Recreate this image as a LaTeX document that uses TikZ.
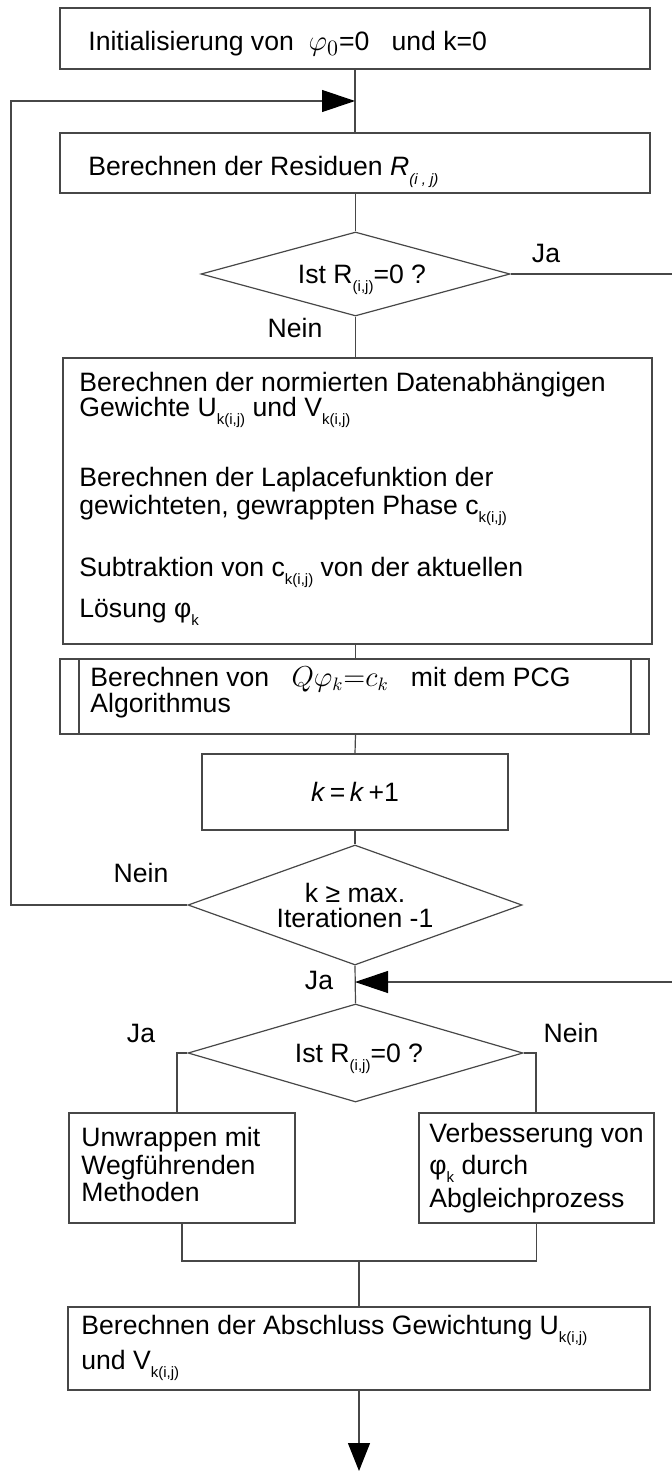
\documentclass[tikz,border=0pt]{standalone}
\usepackage{fontspec}
\setmainfont{Liberation Sans}
\usetikzlibrary{arrows.meta,fit,shapes.geometric}
\newcommand\lsub[1]{\raisebox{-4.2pt}{\fontsize{7.5}{8}\selectfont #1}}
\newcommand\fsz{\fontsize{13.3}{14}\selectfont}
\begin{document}
\begin{tikzpicture}[x=0.5pt,y=-0.5pt,
  line/.style={draw=black!72,line width=0.6pt},
  box/.style={draw=black!72,line width=0.6pt,rectangle,inner sep=0},
  procbox/.style={box,path picture={
      \draw[black!72,line width=0.6pt] ([xshift=9.5pt]path picture bounding box.north west) -- ([xshift=9.5pt]path picture bounding box.south west);
      \draw[black!72,line width=0.6pt] ([xshift=-9pt]path picture bounding box.north east) -- ([xshift=-9pt]path picture bounding box.south east);}},
  dia/.style={draw=black!72,line width=0.6pt,diamond,inner sep=0},
  txt/.style={anchor=base west,inner sep=0,font=\fsz},
  ctxt/.style={anchor=base,inner sep=0,font=\fsz},
  lbl/.style={inner sep=0,font=\fsz},
  arr/.style={-{Triangle[length=16.5pt,width=11pt,color=black]}},
  arrd/.style={-{Triangle[length=14pt,width=11pt,color=black]}}
]
\useasboundingbox (0,0) rectangle (672,1471);

% boxes
\node[box,fit={(60,8) (650,69)}] (b1) {};
\node[txt] (t1) at (88,51) {Initialisierung von \ {\fontsize{15}{15}\selectfont$\varphi_{0}$}=0 \ \ und k=0};

\node[box,fit={(60,133) (650,193)}] (b2) {};
\node[txt] (t2) at (88,176) {Berechnen der Residuen \textit{R}\lsub{\textit{(i , j)}}};

\node[dia,minimum width=154.5pt,minimum height=42pt] (d1) at (355.5,274) {};
\node[ctxt] (td1) at (362,283) {Ist R\lsub{(i,j)}=0 ?};

\node[box,fit={(63,358) (652,644)}] (b3) {};
\node[txt] (t31) at (79,391) {Berechnen der normierten Datenabhängigen};
\node[txt] (t32) at (79,416) {Gewichte U\lsub{k(i,j)} und V\lsub{k(i,j)}};
\node[txt] (t33) at (79,486) {Berechnen der Laplacefunktion der};
\node[txt] (t34) at (79,514) {gewichteten, gewrappten Phase c\lsub{k(i,j)}};
\node[txt] (t35) at (79,576) {Subtraktion von c\lsub{k(i,j)} von der aktuellen};
\node[txt] (t36) at (79,617) {Lösung φ\lsub{k}};

\node[procbox,fit={(60,659) (649,734)}] (b4) {};
\node[txt] (t41) at (90,686) {Berechnen von \ \ $Q\varphi_k{=}c_k$ \ \ mit dem PCG};
\node[txt] (t42) at (90,712) {Algorithmus};

\node[box,fit={(202,754) (508,830)}] (b5) {};
\node[lbl] (t5) at (355,792) {\textit{k}\,=\,\textit{k}\,+1};

\node[dia,minimum width=167pt,minimum height=60pt] (d2) at (355,905) {};
\node[ctxt] (td21) at (355,902) {k ≥ max.};
\node[ctxt] (td22) at (355,927) {Iterationen -1};

\node[dia,minimum width=167.5pt,minimum height=49pt] (d3) at (355.5,1053) {};
\node[ctxt] (td3) at (359,1062) {Ist R\lsub{(i,j)}=0 ?};

\node[box,fit={(69,1113) (295,1223)}] (b7) {};
\node[txt] (t71) at (81,1146) {Unwrappen mit};
\node[txt] (t72) at (81,1174) {Wegführenden};
\node[txt] (t73) at (81,1201) {Methoden};

\node[box,fit={(419,1113) (654,1223)}] (b8) {};
\node[txt] (t81) at (429,1142) {Verbesserung von};
\node[txt] (t82) at (429,1174) {φ\lsub{k} durch};
\node[txt] (t83) at (429,1207) {Abgleichprozess};

\node[box,fit={(68,1307) (650,1390)}] (b9) {};
\node[txt] (t91) at (81,1334) {Berechnen der Abschluss Gewichtung U\lsub{k(i,j)}};
\node[txt] (t92) at (81,1369) {und V\lsub{k(i,j)}};

% labels
\node[lbl] (l1) at (546,253) {Ja};
\node[lbl] (l2) at (295,328) {Nein};
\node[lbl] (l3) at (141,873) {Nein};
\node[lbl] (l4) at (319,980) {Ja};
\node[lbl] (l5) at (141,1033) {Ja};
\node[lbl] (l6) at (571,1033) {Nein};

% coordinates
\coordinate (m1) at (355,101);
\coordinate (L) at (11,0);
\coordinate (r1) at (672,274);
\coordinate (r2) at (672,982);
\coordinate (m2) at (355,982);
\coordinate (sL) at (177,1053);
\coordinate (sR) at (536,1053);
\coordinate (j) at (359,1261);
\coordinate (end) at (359,1471);

% connectors
\draw[line] (b1.south) -- (b2.north);
\draw[line,arr] (d2.west) -- (d2.west -| L) -- (m1 -| L) -- (m1);
\draw[line] (b2.south -| d1.north) -- (d1.north);
\draw[line] (d1.east) -- (r1);
\draw[line] (d1.south) -- (d1.south |- b3.north);
\draw[line] (d1.south |- b3.south) -- (d1.south |- b4.north);
\draw[line] (d1.south |- b4.south) -- (b5.north);
\draw[line] (b5.south) -- (d2.north);
\draw[line] (d2.south) -- (d3.north);
\draw[line,arr] (r2) -- (m2);
\draw[line] (d3.west) -- (sL) -- (sL |- b7.north);
\draw[line] (d3.east) -- (sR) -- (sR |- b8.north);
\draw[line] (b7.south) -- (b7.south |- j) -- (b8.south |- j) -- (b8.south);
\draw[line] (j) -- (b9.north);
\draw[line,arrd] (b9.south) -- (end);
\end{tikzpicture}
\end{document}
